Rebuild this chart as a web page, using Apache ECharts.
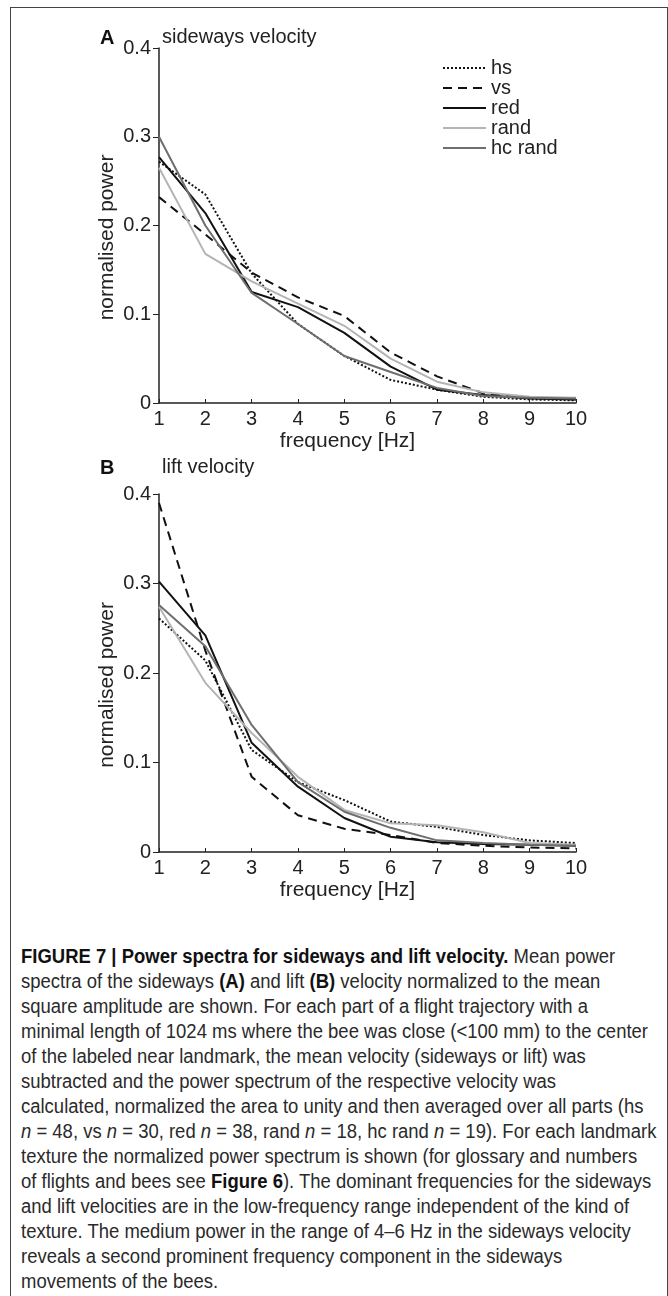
<!DOCTYPE html>
<html>
<head>
<meta charset="utf-8">
<script src="https://cdn.jsdelivr.net/npm/echarts@6/dist/echarts.min.js"></script>
<style>
body{margin:0;background:#fff;}
#frame{position:absolute;left:10px;top:7px;width:656px;height:1300px;border:1px solid #444;border-bottom:none;}
#chart{position:absolute;left:0;top:0;width:668px;height:930px;}
#caption{position:absolute;left:21px;top:944px;font-family:"Liberation Sans",Arial,sans-serif;font-size:19.5px;line-height:25px;color:#2a2a2a;white-space:nowrap;transform-origin:0 0;}
#caption div{display:block;}
#caption span.w{display:inline-block;}
#caption b{color:#111;}
</style>
</head>
<body>
<div id="frame"></div>
<div id="chart"></div>
<div id="caption">
<div><b>FIGURE 7 | Power spectra for sideways and lift velocity.</b> Mean power</div>
<div>spectra of the sideways <b>(A)</b> and lift <b>(B)</b> velocity normalized to the mean</div>
<div>square amplitude are shown. For each part of a flight trajectory with a</div>
<div><span class="w" id="longest">minimal length of 1024 ms where the bee was close (&lt;100 mm) to the center</span></div>
<div>of the labeled near landmark, the mean velocity (sideways or lift) was</div>
<div>subtracted and the power spectrum of the respective velocity was</div>
<div>calculated, normalized the area to unity and then averaged over all parts (hs</div>
<div><i>n</i> = 48, vs <i>n</i> = 30, red <i>n</i> = 38, rand <i>n</i> = 18, hc rand <i>n</i> = 19). For each landmark</div>
<div>texture the normalized power spectrum is shown (for glossary and numbers</div>
<div>of flights and bees see <b>Figure 6</b>). The dominant frequencies for the sideways</div>
<div>and lift velocities are in the low-frequency range independent of the kind of</div>
<div>texture. The medium power in the range of 4–6 Hz in the sideways velocity</div>
<div>reveals a second prominent frequency component in the sideways</div>
<div>movements of the bees.</div>
</div>
<script>
// frequencies (Hz)
var freq = [1, 2, 3, 4, 5, 6, 7, 8, 9, 10];
var names = ['hs', 'vs', 'red', 'rand', 'hc rand'];

// A: sideways velocity
var hsA   = [0.272, 0.235, 0.146, 0.089, 0.053, 0.026, 0.015, 0.007, 0.004, 0.003];
var vsA   = [0.232, 0.190, 0.147, 0.119, 0.098, 0.057, 0.030, 0.011, 0.006, 0.004];
var redA  = [0.277, 0.214, 0.125, 0.108, 0.079, 0.041, 0.015, 0.009, 0.005, 0.004];
var randA = [0.265, 0.168, 0.137, 0.112, 0.087, 0.050, 0.024, 0.012, 0.007, 0.006];
var hcA   = [0.300, 0.200, 0.124, 0.089, 0.053, 0.035, 0.017, 0.008, 0.006, 0.005];

// B: lift velocity
var hsB   = [0.261, 0.214, 0.114, 0.078, 0.058, 0.034, 0.028, 0.019, 0.013, 0.010];
var vsB   = [0.390, 0.225, 0.084, 0.041, 0.026, 0.019, 0.010, 0.007, 0.005, 0.004];
var redB  = [0.302, 0.242, 0.122, 0.073, 0.038, 0.017, 0.011, 0.009, 0.008, 0.007];
var randB = [0.274, 0.189, 0.133, 0.084, 0.047, 0.032, 0.030, 0.022, 0.010, 0.008];
var hcB   = [0.276, 0.230, 0.142, 0.078, 0.045, 0.027, 0.013, 0.010, 0.008, 0.007];

var yTicks = [0, 0.1, 0.2, 0.3, 0.4];

var lineStyles = {
  'hs':      {color: '#111', width: 2, type: [2, 2]},
  'vs':      {color: '#111', width: 2, type: [9, 6]},
  'red':     {color: '#111', width: 2, type: 'solid'},
  'rand':    {color: '#b4b4b4', width: 2, type: 'solid'},
  'hc rand': {color: '#6e6e6e', width: 2, type: 'solid'}
};

function pairs(vals) {
  return freq.map(function (f, i) { return [f, vals[i]]; });
}

function mkSeries(name, vals, idx) {
  return {
    name: name, type: 'line', xAxisIndex: idx, yAxisIndex: idx,
    data: pairs(vals), symbol: 'none', silent: true,
    color: lineStyles[name].color,
    lineStyle: lineStyles[name]
  };
}

function xAx(idx) {
  return {
    gridIndex: idx, type: 'value', min: freq[0], max: freq[freq.length - 1], interval: 1,
    axisLine: {lineStyle: {color: '#222', width: 1.5}},
    axisTick: {inside: true, length: 4, lineStyle: {color: '#222'}},
    axisLabel: {fontSize: 20, color: '#222', margin: 6},
    splitLine: {show: false},
    name: 'frequency [Hz]', nameLocation: 'middle', nameGap: 28, nameMoveOverlap: false,
    nameTextStyle: {fontSize: 21, color: '#222', padding: [0, 40, 0, 0]}
  };
}

function yAx(idx) {
  return {
    gridIndex: idx, type: 'value', min: yTicks[0], max: yTicks[yTicks.length - 1], interval: 0.1,
    axisLine: {show: true, lineStyle: {color: '#222', width: 1.5}},
    axisTick: {show: true, length: 6, lineStyle: {color: '#222'}},
    axisLabel: {fontSize: 20, color: '#222', margin: 8},
    splitLine: {show: false},
    name: 'normalised power', nameLocation: 'middle', nameGap: 41, nameMoveOverlap: false,
    nameTextStyle: {fontSize: 21, color: '#222', padding: [0, 24, 0, 0]}
  };
}

var chart = echarts.init(document.getElementById('chart'));
chart.setOption({
  animation: false,
  textStyle: {fontFamily: 'Liberation Sans, Arial, sans-serif'},
  title: [
    {text: 'A', left: 95, top: 23, textStyle: {fontSize: 20, fontWeight: 'bold', color: '#111'}},
    {text: 'sideways velocity', left: 157, top: 22, textStyle: {fontSize: 20, fontWeight: 'normal', color: '#222'}},
    {text: 'B', left: 95, top: 453, textStyle: {fontSize: 20, fontWeight: 'bold', color: '#111'}},
    {text: 'lift velocity', left: 157, top: 452, textStyle: {fontSize: 20, fontWeight: 'normal', color: '#222'}}
  ],
  legend: {
    data: names, orient: 'vertical', left: 442, top: 58, padding: 0,
    itemWidth: 43, itemHeight: 10, itemGap: 0, selectedMode: false,
    itemStyle: {opacity: 0},
    textStyle: {fontSize: 20, color: '#222'}
  },
  grid: [
    {left: 159, top: 48, width: 417, height: 355},
    {left: 159, top: 494, width: 417, height: 358}
  ],
  xAxis: [xAx(0), xAx(1)],
  yAxis: [yAx(0), yAx(1)],
  series: [
    mkSeries('hs', hsA, 0), mkSeries('vs', vsA, 0), mkSeries('red', redA, 0),
    mkSeries('rand', randA, 0), mkSeries('hc rand', hcA, 0),
    mkSeries('hs', hsB, 1), mkSeries('vs', vsB, 1), mkSeries('red', redB, 1),
    mkSeries('rand', randB, 1), mkSeries('hc rand', hcB, 1)
  ]
});

// squeeze the caption to the width of the printed column
var cap = document.getElementById('caption');
var w = document.getElementById('longest').getBoundingClientRect().width;
cap.style.transform = 'scaleX(' + (627 / w) + ')';
</script>
</body>
</html>
